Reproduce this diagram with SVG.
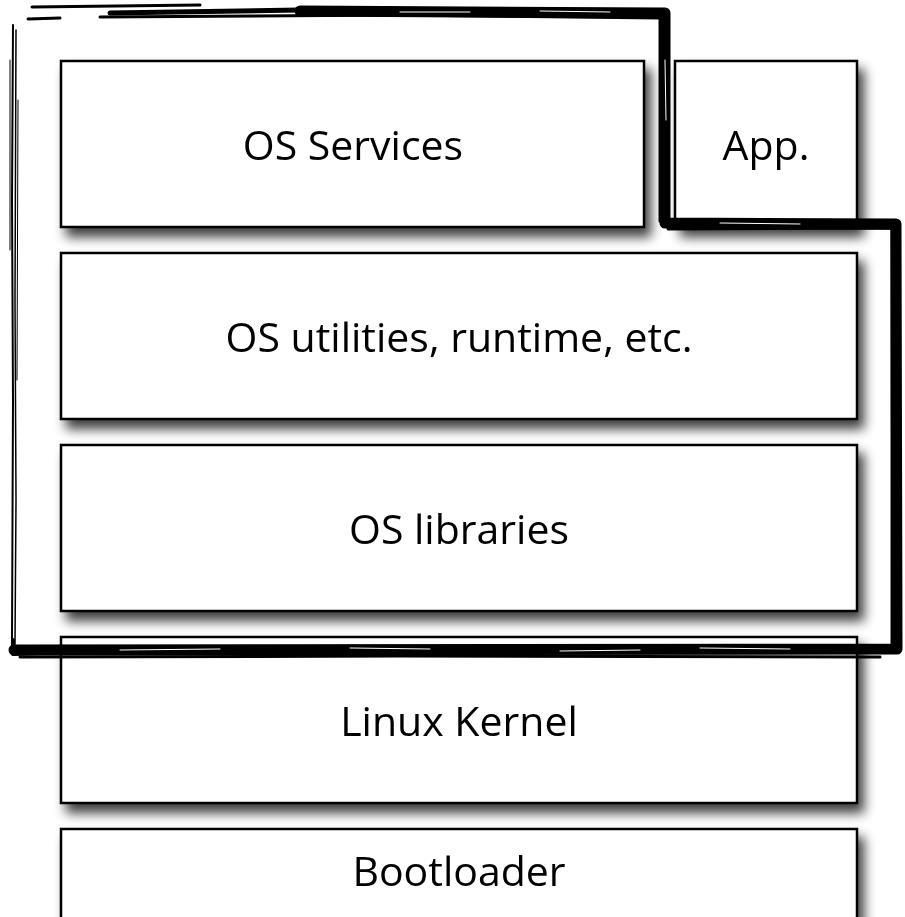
<svg xmlns="http://www.w3.org/2000/svg" width="905" height="917" viewBox="0 0 905 917">
<defs>
<filter id="sh" x="-10%" y="-20%" width="130%" height="160%">
<feGaussianBlur in="SourceAlpha" stdDeviation="6"/>
<feOffset dx="6" dy="9" result="b"/>
<feComponentTransfer><feFuncA type="linear" slope="0.75"/></feComponentTransfer>
<feMerge><feMergeNode/><feMergeNode in="SourceGraphic"/></feMerge>
</filter>
<style>
.box{fill:#fff;stroke:#000;stroke-width:2.5}
.lbl{font-family:"Open Sans",sans-serif;font-size:41px;fill:#000;text-anchor:middle}
.sk{fill:none;stroke:#000;stroke-linecap:round;stroke-linejoin:round}
.wt{fill:none;stroke:#fff;stroke-linecap:round}
</style>
</defs>
<rect width="905" height="917" fill="#fff"/>
<g id="bootloader" filter="url(#sh)"><rect class="box" x="61" y="829" width="796" height="166"/><text class="lbl" x="459" y="886">Bootloader</text></g>
<g id="kernel" filter="url(#sh)"><rect class="box" x="61" y="637" width="796" height="166"/><text class="lbl" x="459" y="736">Linux Kernel</text></g>
<g id="libraries" filter="url(#sh)"><rect class="box" x="61" y="445" width="796" height="166"/><text class="lbl" x="459" y="544">OS libraries</text></g>
<g id="utilities" filter="url(#sh)"><rect class="box" x="61" y="253" width="796" height="166"/><text class="lbl" x="459" y="352">OS utilities, runtime, etc.</text></g>
<g id="services" filter="url(#sh)"><rect class="box" x="61" y="61" width="583" height="166"/><text class="lbl" x="353" y="160">OS Services</text></g>
<g id="app" filter="url(#sh)"><rect class="box" x="675" y="61" width="182" height="166"/><text class="lbl" x="766" y="160">App.</text></g>
<g id="outline">
<path class="sk" stroke-width="2" d="M13 25 L12 200 L13 400 L12 640"/>
<path class="sk" stroke-width="1.5" d="M16 30 L15 300 L16 500 L15 645"/>
<path class="sk" stroke-width="1" d="M10 60 L10 250 M18 100 L17 380"/>
<path class="sk" stroke-width="3" d="M32 7 L200 5 M28 19 L60 18"/>
<path class="sk" stroke-width="5" d="M110 13 L300 10"/>
<path class="sk" stroke-width="11" d="M300 11 L665 13 L665 223 L896 224 L897 649 L14 650"/>
<path class="sk" stroke-width="3" d="M100 17 L400 15 L660 18 L660 221"/>
<path class="sk" stroke-width="3" d="M668 229 L892 228 L892 646"/>
<path class="sk" stroke-width="3" d="M20 657 L400 656 L880 657"/>
<path class="sk" stroke-width="4" d="M13 640 L13 654 L40 653"/>
<path class="wt" stroke-width="1" d="M120 650 L220 649 M350 648 L430 649 M560 651 L640 650 M700 648 L790 649 M400 12 L470 12 M540 11 L610 12 M720 223 L800 224 M665 60 L666 120"/>
</g>
</svg>
